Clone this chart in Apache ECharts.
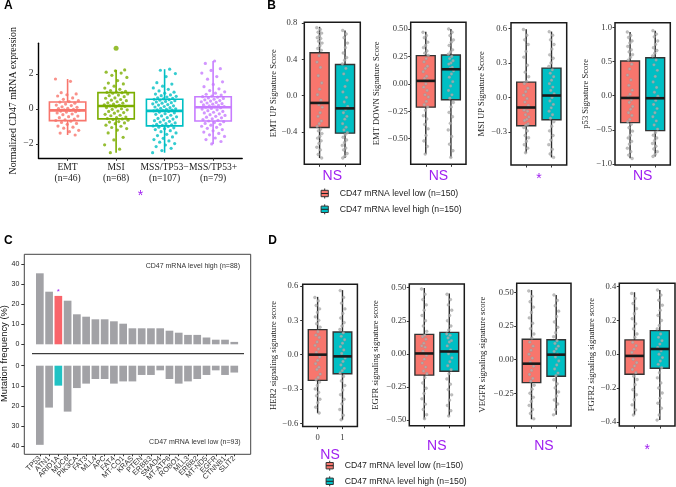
<!DOCTYPE html>
<html><head><meta charset="utf-8">
<script src="https://cdn.jsdelivr.net/npm/echarts@6/dist/echarts.min.js"></script>
<style>html,body{margin:0;padding:0;background:#fff}#c{width:676px;height:487px}</style>
</head><body><div id="c"></div>
<script>
// ================= DATA =================
// Panel A
const groupsA = ['EMT', 'MSI', 'MSS/TP53\u2212', 'MSS/TP53+'];
const countsA = [46, 68, 107, 79];
const boxA = [ // [min, Q1, median, Q3, max]
  [-1.49, -0.67, -0.08, 0.40, 1.71],
  [-2.50, -0.57, 0.17, 0.93, 2.23],
  [-2.50, -0.97, -0.11, 0.55, 2.27],
  [-2.00, -0.69, 0.10, 0.70, 2.74]
];
const outliersA = [[2, 3.47]];
const ptsA_EMT = [1.71,1.58,0.93,0.86,0.81,0.74,0.63,0.55,0.47,0.42,0.39,0.33,0.28,0.22,0.19,0.12,0.09,0.04,0.02,-0.03,-0.05,-0.08,-0.09,-0.12,-0.16,-0.18,-0.23,-0.29,-0.33,-0.41,-0.44,-0.5,-0.58,-0.63,-0.66,-0.7,-0.77,-0.83,-0.88,-0.98,-1.04,-1.1,-1.22,-1.3,-1.38,-1.49];
const ptsA_MSI = [2.23,2.18,2.1,2.05,1.92,1.8,1.62,1.48,1.43,1.3,1.19,1.12,1.05,1.01,0.97,0.95,0.93,0.9,0.86,0.79,0.76,0.7,0.63,0.61,0.54,0.5,0.47,0.41,0.35,0.33,0.27,0.24,0.2,0.18,0.15,0.11,0.08,0.01,-0.02,-0.05,-0.12,-0.14,-0.21,-0.24,-0.31,-0.36,-0.39,-0.46,-0.5,-0.55,-0.57,-0.6,-0.64,-0.72,-0.75,-0.8,-0.84,-0.93,-0.99,-1.06,-1.12,-1.21,-1.37,-1.62,-1.77,-2.05,-2.3,-2.5];
const ptsA_TP53neg = [2.27,2.21,2.02,1.85,1.5,1.42,1.3,1.2,1.12,1.03,0.96,0.9,0.85,0.8,0.76,0.72,0.68,0.64,0.61,0.58,0.55,0.53,0.5,0.47,0.43,0.4,0.36,0.33,0.29,0.25,0.22,0.18,0.14,0.11,0.07,0.04,0.01,-0.02,-0.05,-0.07,-0.09,-0.11,-0.14,-0.18,-0.22,-0.27,-0.31,-0.36,-0.4,-0.45,-0.5,-0.54,-0.58,-0.63,-0.67,-0.71,-0.75,-0.8,-0.84,-0.88,-0.91,-0.94,-0.97,-1.0,-1.04,-1.08,-1.13,-1.18,-1.24,-1.3,-1.37,-1.45,-1.52,-1.6,-1.68,-1.75,-1.83,-1.9,-1.98,-2.06,-2.15,-2.25,-2.38,-2.5];
const ptsA_TP53pos = [2.74,2.6,2.3,2.2,2.05,1.85,1.7,1.55,1.4,1.27,1.15,1.05,0.98,0.9,0.84,0.79,0.74,0.7,0.67,0.63,0.6,0.56,0.52,0.48,0.45,0.41,0.37,0.34,0.3,0.27,0.23,0.2,0.17,0.14,0.12,0.1,0.07,0.03,-0.01,-0.05,-0.1,-0.14,-0.19,-0.23,-0.28,-0.33,-0.37,-0.42,-0.47,-0.51,-0.56,-0.61,-0.65,-0.69,-0.73,-0.78,-0.83,-0.88,-0.93,-0.99,-1.05,-1.11,-1.18,-1.25,-1.32,-1.4,-1.48,-1.57,-1.66,-1.75,-1.86,-2.0];
const ticksA = [-2, 0, 2];
const testA = '*';

// Panel B
const titlesB = ['EMT UP Signature Score', 'EMT DOWN Signature Score', 'MSI UP Signature Score', 'p53 Signature Score'];
const testB = ['NS', 'NS', '*', 'NS'];
const boxB_low = [[-0.69,-0.352,-0.081,0.474,0.76],[-0.64,-0.212,0.027,0.257,0.475],[-0.482,-0.245,-0.087,0.133,0.593],[-0.915,-0.395,-0.034,0.507,0.93]];
const boxB_high = [[-0.69,-0.415,-0.141,0.344,0.72],[-0.67,-0.145,0.133,0.263,0.5],[-0.52,-0.193,0.017,0.255,0.572],[-0.89,-0.512,-0.038,0.555,0.95]];
const ticksB = [[-0.4,0,0.4,0.8],[-0.5,-0.25,0,0.25,0.5],[-0.3,0,0.3,0.6],[-1,-0.5,0,0.5,1]];
const ptsB_low = [
  [0.75,0.73,0.7,0.69,0.66,0.64,0.63,0.6,0.58,0.55,0.52,0.5,0.44,0.37,0.31,0.22,0.14,0.07,0.01,-0.05,-0.1,-0.13,-0.19,-0.23,-0.28,-0.31,-0.34,-0.37,-0.39,-0.42,-0.45,-0.47,-0.5,-0.53,-0.57,-0.6,-0.65,-0.69],
  [0.47,0.44,0.42,0.38,0.35,0.33,0.3,0.28,0.26,0.23,0.2,0.16,0.14,0.11,0.07,0.05,0.03,0.0,-0.03,-0.06,-0.1,-0.12,-0.16,-0.19,-0.21,-0.24,-0.29,-0.32,-0.37,-0.41,-0.47,-0.52,-0.57,-0.64],
  [0.59,0.54,0.5,0.46,0.4,0.35,0.28,0.22,0.18,0.14,0.12,0.08,0.05,0.02,-0.01,-0.04,-0.07,-0.09,-0.11,-0.12,-0.15,-0.17,-0.19,-0.2,-0.23,-0.24,-0.26,-0.29,-0.33,-0.35,-0.38,-0.41,-0.44,-0.48],
  [0.93,0.88,0.85,0.8,0.77,0.72,0.67,0.64,0.6,0.56,0.52,0.46,0.39,0.3,0.23,0.15,0.08,0.02,-0.02,-0.06,-0.1,-0.16,-0.2,-0.25,-0.29,-0.35,-0.38,-0.42,-0.47,-0.52,-0.58,-0.62,-0.67,-0.71,-0.77,-0.82,-0.87,-0.92]
];
const ptsB_high = [
  [0.72,0.68,0.64,0.58,0.53,0.47,0.42,0.39,0.35,0.3,0.24,0.17,0.1,0.04,-0.02,-0.07,-0.12,-0.15,-0.19,-0.23,-0.26,-0.31,-0.35,-0.38,-0.41,-0.43,-0.46,-0.49,-0.52,-0.55,-0.58,-0.6,-0.64,-0.67,-0.69],
  [0.5,0.47,0.44,0.4,0.38,0.35,0.31,0.29,0.27,0.25,0.23,0.21,0.19,0.18,0.15,0.14,0.12,0.09,0.06,0.02,-0.02,-0.06,-0.1,-0.13,-0.17,-0.21,-0.26,-0.3,-0.36,-0.42,-0.48,-0.55,-0.61,-0.67],
  [0.57,0.54,0.5,0.46,0.42,0.37,0.34,0.3,0.27,0.24,0.21,0.18,0.15,0.12,0.09,0.06,0.03,0.0,-0.03,-0.06,-0.09,-0.12,-0.15,-0.18,-0.21,-0.25,-0.29,-0.33,-0.37,-0.41,-0.45,-0.49,-0.52],
  [0.95,0.9,0.86,0.8,0.75,0.7,0.66,0.62,0.58,0.52,0.45,0.37,0.28,0.2,0.12,0.05,-0.01,-0.07,-0.13,-0.19,-0.25,-0.31,-0.37,-0.43,-0.49,-0.54,-0.58,-0.62,-0.66,-0.7,-0.74,-0.78,-0.82,-0.86,-0.89]
];

// Panel C
const genes = ['TP53','ATN1','ARID1A','MUC6','PIK3CA','FAT3','MLL4','APC','FAT4','MT-CO1','KRAS','PTEN','ERBB3','SMAD4','MT-ATP6','ROBO1','MLL3','ERBB2','MT-ND5','EGFR','CTNNB1','SLIT2'];
const freqHigh = [35.5,26.3,24.2,21.8,15.0,13.8,12.5,12.5,11.5,10.3,8.0,8.0,8.0,8.0,6.8,5.8,4.7,4.7,3.4,2.3,2.3,1.2];
const freqLow = [39.3,20.8,9.9,22.8,11.1,8.9,6.6,6.6,8.9,7.8,7.8,4.6,4.6,2.3,6.6,8.9,7.8,6.6,4.6,2.3,4.6,3.4];
const sigGene = 'ARID1A';
const ticksC = [0, 10, 20, 30, 40];
const labelHighC = 'CD47 mRNA level high (n=88)';
const labelLowC = 'CD47 mRNA level low (n=93)';
const titleC = 'Mutation frequency (%)';

// Panel D
const titlesD = ['HER2 signaling signature score', 'EGFR signaling signature score', 'VEGFR signaling signature score', 'FGFR2 signaling signature score'];
const testD = ['NS', 'NS', 'NS', '*'];
const boxD_low = [[-0.512,-0.225,0.0,0.219,0.505],[-0.495,-0.161,0.003,0.147,0.497],[-0.443,-0.171,-0.03,0.151,0.517],[-0.36,-0.119,-0.01,0.085,0.367]];
const boxD_high = [[-0.57,-0.167,-0.015,0.198,0.564],[-0.472,-0.131,0.018,0.162,0.457],[-0.41,-0.123,0.037,0.148,0.48],[-0.39,-0.083,0.031,0.14,0.38]];
const ticksD = [[-0.6,-0.3,0,0.3,0.6],[-0.5,-0.25,0,0.25,0.5],[-0.25,0,0.25,0.5],[-0.4,-0.2,0,0.2,0.4]];
const xLabelsD1 = ['0', '1'];
const ptsD_low = [
  [0.5,0.47,0.43,0.4,0.37,0.33,0.3,0.27,0.24,0.2,0.17,0.15,0.11,0.08,0.05,0.02,-0.02,-0.05,-0.08,-0.11,-0.13,-0.17,-0.2,-0.22,-0.24,-0.27,-0.3,-0.33,-0.36,-0.39,-0.42,-0.46,-0.51],
  [0.49,0.45,0.41,0.37,0.33,0.29,0.25,0.21,0.17,0.14,0.13,0.11,0.08,0.06,0.05,0.02,-0.01,-0.04,-0.07,-0.1,-0.13,-0.15,-0.18,-0.22,-0.26,-0.3,-0.34,-0.38,-0.42,-0.46,-0.49],
  [0.51,0.47,0.43,0.39,0.35,0.31,0.27,0.23,0.19,0.16,0.13,0.1,0.07,0.04,0.01,-0.02,-0.05,-0.08,-0.11,-0.14,-0.16,-0.19,-0.22,-0.25,-0.28,-0.31,-0.34,-0.37,-0.4,-0.44],
  [0.36,0.33,0.3,0.27,0.24,0.21,0.18,0.15,0.12,0.1,0.07,0.05,0.03,0.01,-0.01,-0.03,-0.05,-0.07,-0.09,-0.11,-0.13,-0.15,-0.18,-0.21,-0.24,-0.27,-0.3,-0.33,-0.36]
];
const ptsD_high = [
  [0.56,0.5,0.45,0.4,0.36,0.32,0.28,0.25,0.22,0.19,0.16,0.13,0.1,0.07,0.04,0.01,-0.03,-0.06,-0.09,-0.12,-0.14,-0.16,-0.19,-0.23,-0.27,-0.31,-0.35,-0.39,-0.43,-0.48,-0.53,-0.57],
  [0.45,0.41,0.37,0.33,0.29,0.25,0.21,0.18,0.15,0.14,0.12,0.1,0.09,0.06,0.03,0.0,-0.03,-0.06,-0.09,-0.12,-0.15,-0.19,-0.23,-0.27,-0.31,-0.35,-0.39,-0.43,-0.47],
  [0.48,0.44,0.4,0.36,0.32,0.28,0.24,0.2,0.17,0.14,0.12,0.1,0.08,0.06,0.04,0.02,-0.01,-0.04,-0.07,-0.1,-0.12,-0.15,-0.18,-0.21,-0.24,-0.27,-0.3,-0.33,-0.37,-0.41],
  [0.38,0.35,0.32,0.29,0.26,0.23,0.2,0.17,0.15,0.12,0.1,0.08,0.06,0.04,0.02,0.0,-0.02,-0.04,-0.06,-0.08,-0.11,-0.14,-0.17,-0.2,-0.23,-0.26,-0.29,-0.32,-0.36,-0.39]
];
const legendLabels = ['CD47 mRNA level low (n=150)', 'CD47 mRNA level high (n=150)'];

// ================= LAYOUT / STYLE =================
const SERIF = '"Liberation Serif","Times New Roman",serif';
const SANS = '"Liberation Sans",Arial,sans-serif';
const PURPLE = '#A020F0';
const LOWC = '#F8766D', HIGHC = '#00BFC4';
const colorsA = ['#F8766D', '#7CAE00', '#00BFC4', '#C77CFF'];

const layoutB = [
  {left:304.3, top:22.3, w:56,   h:142,   ymin:-0.759, ymax:0.81,  dec:1, ng:26.3, lm:7,   tg:4.4},
  {left:410.7, top:22.3, w:55.3, h:142,   ymin:-0.733, ymax:0.561, dec:2, ng:29.4, lm:3,   tg:4.4},
  {left:511,   top:22.7, w:55.7, h:142.3, ymin:-0.586, ymax:0.649, dec:1, ng:24.7, lm:4,   tg:7},
  {left:615,   top:22.7, w:55.3, h:142.3, ymin:-1.015, ymax:1.067, dec:1, ng:24.7, lm:3,   tg:4.4}
];
const layoutD = [
  {left:302.7, top:284.3, w:54.7, h:142.3, ymin:-0.629, ymax:0.615, dec:1, ng:24.7, lm:4.5, tg:22, xlm:7},
  {left:409.3, top:284,   w:55,   h:141.7, ymin:-0.543, ymax:0.528, dec:2, ng:29,   lm:3,   tg:13},
  {left:516.7, top:283.3, w:54.3, h:142.7, ymin:-0.493, ymax:0.567, dec:2, ng:29.7, lm:3,   tg:13},
  {left:619.3, top:283.3, w:55.7, h:142.7, ymin:-0.425, ymax:0.42,  dec:1, ng:23.3, lm:3,   tg:16.7}
];

const grids = [], xAxes = [], yAxes = [], series = [], graphics = [];
function minus(s) { return String(s).replace('-', '\u2212'); }
function jit(i) { return ((i * 0.6180339887) % 1) * 2 - 1; }
function addGrid(g) { grids.push(Object.assign({containLabel:false, outerBoundsMode:'none'}, g)); return grids.length - 1; }

function makeBoxRenderer(mode) {
  return function (params, api) {
    const x = api.value(0), ci = api.value(6);
    const P = k => api.coord([x, api.value(k)]);
    const lo = P(1), q1 = P(2), md = P(3), q3 = P(4), hi = P(5);
    const hw = api.size([0.75, 0])[0] / 2;
    if (mode === 'open') {
      const c = colorsA[ci];
      const ls = {stroke:c, lineWidth:1.6, fill:null};
      return {type:'group', children:[
        {type:'line', shape:{x1:lo[0], y1:lo[1], x2:q1[0], y2:q1[1]}, style:ls},
        {type:'line', shape:{x1:q3[0], y1:q3[1], x2:hi[0], y2:hi[1]}, style:ls},
        {type:'rect', shape:{x:q3[0]-hw, y:q3[1], width:2*hw, height:q1[1]-q3[1]}, style:{stroke:c, lineWidth:1.6, fill:'rgba(255,255,255,0)'}},
        {type:'line', shape:{x1:md[0]-hw, y1:md[1], x2:md[0]+hw, y2:md[1]}, style:{stroke:c, lineWidth:2.6}}
      ]};
    }
    if (mode === 'median') {
      return {type:'line', shape:{x1:md[0]-hw, y1:md[1], x2:md[0]+hw, y2:md[1]}, style:{stroke:'#1a1a1a', lineWidth:2.6}};
    }
    const c = ci === 0 ? LOWC : HIGHC;
    return {type:'group', children:[
      {type:'line', shape:{x1:lo[0], y1:lo[1], x2:hi[0], y2:hi[1]}, style:{stroke:'#2b2b2b', lineWidth:1.4}},
      {type:'rect', shape:{x:q3[0]-hw, y:q3[1], width:2*hw, height:q1[1]-q3[1]}, style:{stroke:'#333', lineWidth:1.4, fill:c}}
    ]};
  };
}

// ---------- Panel A ----------
(function () {
  const gi = addGrid({left:38.5, top:43.3, width:203.7, height:115});
  const xi = xAxes.length, yi = yAxes.length;
  xAxes.push({gridIndex:gi, type:'value', min:0.4, max:4.6, splitLine:{show:false},
    axisLine:{show:true, onZero:false, lineStyle:{color:'#000', width:1.4}},
    axisTick:{show:true, length:2.5, customValues:[1,2,3,4], lineStyle:{color:'#333'}},
    axisLabel:{customValues:[1,2,3,4], formatter:v => groupsA[v-1] + '\n(n=' + countsA[v-1] + ')', fontFamily:SERIF, fontSize:9.6, color:'#1a1a1a', lineHeight:11.5, margin:3},
    name:testA, nameLocation:'middle', nameGap:31, nameTextStyle:{color:PURPLE, fontSize:14, fontFamily:SANS}});
  yAxes.push({gridIndex:gi, type:'value', min:-2.82, max:3.75, splitLine:{show:false},
    axisLine:{show:true, onZero:false, lineStyle:{color:'#000', width:1.4}},
    axisTick:{show:true, length:2.5, customValues:ticksA, lineStyle:{color:'#333'}},
    axisLabel:{customValues:ticksA, formatter:v => minus(v), fontFamily:SERIF, fontSize:9.6, color:'#333', margin:5},
    name:'Normalized CD47 mRNA expression', nameLocation:'middle', nameGap:20.5, nameTextStyle:{fontFamily:SERIF, fontSize:9.8, color:'#111'}});
  series.push({type:'custom', xAxisIndex:xi, yAxisIndex:yi, silent:true, z:2, renderItem:makeBoxRenderer('open'),
    data: boxA.map((b, i) => [i+1].concat(b, [i])) });
  const ptsA = [ptsA_EMT, ptsA_MSI, ptsA_TP53neg, ptsA_TP53pos];
  ptsA.forEach((arr, g) => {
    series.push({type:'scatter', xAxisIndex:xi, yAxisIndex:yi, silent:true, z:3, symbolSize:3.2,
      itemStyle:{color:colorsA[g]}, data: arr.map((v, i) => [g + 1 + 0.25 * jit(i + g * 3), v])});
  });
  series.push({type:'scatter', xAxisIndex:xi, yAxisIndex:yi, silent:true, z:3, symbolSize:5,
    itemStyle:{color:colorsA[1]}, data: outliersA.map(o => [o[0], o[1]])});
})();

// ---------- Panels B and D ----------
function addSig(cfg, title, test, bl, bh, pl, ph, ticks, xlabels) {
  const gi = addGrid({left:cfg.left, top:cfg.top, width:cfg.w, height:cfg.h, show:true, borderColor:'#1a1a1a', borderWidth:1.5, backgroundColor:'transparent'});
  const xi = xAxes.length, yi = yAxes.length;
  xAxes.push({gridIndex:gi, type:'value', min:0.4, max:2.6, splitLine:{show:false}, axisLine:{show:false, onZero:false},
    axisTick:{show:true, length:2.5, customValues:[1,2], lineStyle:{color:'#333'}},
    axisLabel:{show:!!xlabels, customValues:[1,2], formatter:v => xlabels ? xlabels[v-1] : '', fontFamily:SERIF, fontSize:8.6, color:'#333', margin:cfg.xlm || 5},
    name:test, nameLocation:'middle', nameGap:cfg.tg, nameTextStyle:{color:PURPLE, fontSize:14, fontFamily:SANS}});
  yAxes.push({gridIndex:gi, type:'value', min:cfg.ymin, max:cfg.ymax, splitLine:{show:false}, axisLine:{show:false, onZero:false},
    axisTick:{show:true, length:2.5, customValues:ticks, lineStyle:{color:'#333'}},
    axisLabel:{customValues:ticks, formatter:v => minus(v.toFixed(cfg.dec)), fontFamily:SERIF, fontSize:8.6, color:'#333', margin:cfg.lm},
    name:title, nameLocation:'middle', nameGap:cfg.ng, nameTextStyle:{fontFamily:SERIF, fontSize:8.6, color:'#222'}});
  const bdata = [[1].concat(bl, [0]), [2].concat(bh, [1])];
  series.push({type:'custom', xAxisIndex:xi, yAxisIndex:yi, silent:true, z:2, renderItem:makeBoxRenderer('filled'), data:bdata});
  series.push({type:'scatter', xAxisIndex:xi, yAxisIndex:yi, silent:true, z:3, symbolSize:2.9,
    itemStyle:{color:'#B0B0B0', borderColor:'#8A8A8A', borderWidth:0.3},
    data: pl.map((v, i) => [1 + 0.11 * jit(i), v]).concat(ph.map((v, i) => [2 + 0.11 * jit(i + 5), v]))});
  series.push({type:'custom', xAxisIndex:xi, yAxisIndex:yi, silent:true, z:4, renderItem:makeBoxRenderer('median'), data:bdata});
}
for (let k = 0; k < 4; k++) addSig(layoutB[k], titlesB[k], testB[k], boxB_low[k], boxB_high[k], ptsB_low[k], ptsB_high[k], ticksB[k], null);
for (let k = 0; k < 4; k++) addSig(layoutD[k], titlesD[k], testD[k], boxD_low[k], boxD_high[k], ptsD_low[k], ptsD_high[k], ticksD[k], k === 0 ? xLabelsD1 : null);

// ---------- Panel C ----------
(function () {
  const gU = addGrid({left:35.2, top:254.3, width:203.7, height:90});
  const gL = addGrid({left:35.2, top:365.7, width:203.7, height:88.6});
  const xU = xAxes.length;
  xAxes.push({gridIndex:gU, type:'category', data:genes, show:false});
  const xL = xAxes.length;
  xAxes.push({gridIndex:gL, type:'category', data:genes, axisLine:{show:false, onZero:false},
    axisTick:{show:true, length:2, alignWithLabel:true, lineStyle:{color:'#333'}},
    axisLabel:{interval:0, rotate:45, fontSize:7.4, fontFamily:SANS, color:'#333', margin:3}});
  const yU = yAxes.length;
  const yCommon = {type:'value', offset:10.9, splitLine:{show:false}, axisLine:{show:false, onZero:false},
    axisTick:{show:true, length:3, customValues:ticksC, lineStyle:{color:'#333'}},
    axisLabel:{customValues:ticksC, fontSize:7, fontFamily:SANS, color:'#222', margin:5}};
  yAxes.push(Object.assign({gridIndex:gU, min:0, max:45}, yCommon));
  const yL = yAxes.length;
  yAxes.push(Object.assign({gridIndex:gL, min:0, max:44, inverse:true}, yCommon));
  const GREY = '#A2A2A6';
  series.push({type:'bar', xAxisIndex:xU, yAxisIndex:yU, barWidth:'83%', silent:true, itemStyle:{color:GREY},
    data: freqHigh.map((v, i) => genes[i] === sigGene ? {value:v, itemStyle:{color:'#F9646A'},
      label:{show:true, position:'top', formatter:'*', color:PURPLE, fontSize:8, distance:0, fontFamily:SANS}} : v)});
  series.push({type:'bar', xAxisIndex:xL, yAxisIndex:yL, barWidth:'83%', silent:true, itemStyle:{color:GREY},
    data: freqLow.map((v, i) => genes[i] === sigGene ? {value:v, itemStyle:{color:'#20C2C4'}} : v)});
  graphics.push({type:'rect', shape:{x:24.3, y:254.3, width:226.4, height:200}, style:{fill:null, stroke:'#444', lineWidth:1}, silent:true});
  graphics.push({type:'line', shape:{x1:32, y1:353.7, x2:244, y2:353.7}, style:{stroke:'#111', lineWidth:1}, silent:true});
  graphics.push({type:'text', x:240, y:265.7, style:{text:labelHighC, align:'right', verticalAlign:'middle', textAlign:'right', textVerticalAlign:'middle', font:'7px ' + SANS, fill:'#333'}, silent:true});
  graphics.push({type:'text', x:240.7, y:442.3, style:{text:labelLowC, align:'right', verticalAlign:'middle', textAlign:'right', textVerticalAlign:'middle', font:'7px ' + SANS, fill:'#333'}, silent:true});
  graphics.push({type:'text', x:4.8, y:353.5, rotation:Math.PI/2, style:{text:titleC, align:'center', verticalAlign:'middle', textAlign:'center', textVerticalAlign:'middle', font:'9.4px ' + SANS, fill:'#111'}, silent:true});
})();

// ---------- Legends & panel letters ----------
function legendRow(cx, cy, color, text) {
  graphics.push({type:'line', shape:{x1:cx, y1:cy-5, x2:cx, y2:cy+5}, style:{stroke:'#333', lineWidth:1}, silent:true});
  graphics.push({type:'rect', shape:{x:cx-3.6, y:cy-3.2, width:7.2, height:6.4}, style:{fill:color, stroke:'#333', lineWidth:1}, silent:true});
  graphics.push({type:'line', shape:{x1:cx-3.6, y1:cy, x2:cx+3.6, y2:cy}, style:{stroke:'#222', lineWidth:1}, silent:true});
  graphics.push({type:'text', x:cx+15, y:cy, style:{text:text, align:'left', verticalAlign:'middle', textAlign:'left', textVerticalAlign:'middle', font:'8.7px ' + SANS, fill:'#222'}, silent:true});
}
legendRow(324.7, 193.5, LOWC, legendLabels[0]);
legendRow(324.7, 209.3, HIGHC, legendLabels[1]);
legendRow(329.7, 465.7, LOWC, legendLabels[0]);
legendRow(329.7, 481.3, HIGHC, legendLabels[1]);

[['A', 4, 0], ['B', 267.3, 0], ['C', 4, 234.5], ['D', 268.3, 234.5]].forEach(p => {
  graphics.push({type:'text', x:p[1], y:p[2], style:{text:p[0], align:'left', verticalAlign:'top', textAlign:'left', textVerticalAlign:'top', font:'bold 12px ' + SANS, fill:'#000'}, silent:true});
});

const chart = echarts.init(document.getElementById('c'), null, {renderer:'canvas', width:676, height:487});
chart.setOption({
  animation:false,
  backgroundColor:'#fff',
  grid:grids, xAxis:xAxes, yAxis:yAxes, series:series,
  graphic:{elements:graphics}
});
</script>
</body></html>
